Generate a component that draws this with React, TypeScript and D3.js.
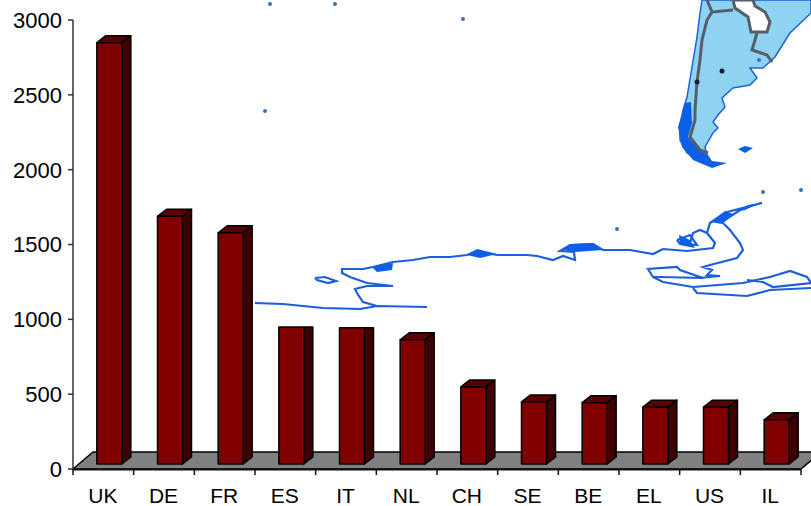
import { line, scaleBand, scaleLinear } from 'd3'

const WIDTH = 811
const HEIGHT = 506
const MARGIN = { top: 20, right: 10, bottom: 37, left: 73 }
const DEPTH_X = 9
const DEPTH_Y = 7
const FLOOR_X = 20
const FLOOR_Y = 17
const BAR_WIDTH = 25

const countries = ['UK', 'DE', 'FR', 'ES', 'IT', 'NL', 'CH', 'SE', 'BE', 'EL', 'US', 'IL']
const counts = [2815, 1655, 1545, 915, 910, 830, 515, 415, 410, 380, 380, 295]
const yTicks = [0, 500, 1000, 1500, 2000, 2500, 3000]
// these two bars lost their top face in the original, the map image sits over them
const flatTopped = ['ES', 'IT']

// backdrop map, traced in picture pixels (not chart data)
type Pt = [number, number]
const land: Pt[] = [
  [702, 0], [700, 13], [697, 37], [692, 67], [687, 97], [683, 110], [680, 127], [680, 140], [687, 153], [700, 160],
  [708, 160], [705, 147], [713, 133], [718, 128], [713, 122], [718, 115], [725, 107], [722, 98],
  [733, 88], [750, 85], [757, 78], [750, 68], [763, 68], [775, 57], [790, 33], [811, 13], [811, 0],
]
const patagonia: Pt[] = [
  [685, 103], [691, 102], [692, 123], [688, 137], [700, 151], [708, 155], [712, 161], [727, 163], [712, 168], [693, 160],
  [682, 147], [678, 127], [683, 110],
]
const whiteBlob: Pt[] = [[733, 0], [735, 8], [748, 17], [751, 32], [767, 32], [770, 22], [765, 12], [755, 6], [753, 0]]
const borders: Pt[][] = [
  [[707, 0], [712, 12], [707, 20], [702, 40], [700, 60], [697, 82], [695, 110], [695, 120], [690, 137], [700, 150], [708, 153]],
  [[712, 12], [733, 10]],
  [[757, 33], [752, 50], [767, 55], [772, 62]],
]
const coast: Pt[][] = [
  // ross side and bay
  [[255, 303], [283, 304], [323, 308], [360, 309], [377, 306], [427, 307]],
  [[377, 306], [363, 302], [357, 293], [355, 289], [367, 286], [393, 286], [367, 283], [350, 277], [342, 273], [342, 269],
    [363, 269], [373, 267], [393, 262], [413, 260], [430, 257], [450, 257], [467, 255], [477, 251], [497, 255], [517, 255],
    [527, 255], [537, 256], [553, 260], [563, 256], [575, 260], [574, 252], [560, 251], [570, 245], [593, 244], [603, 250],
    [630, 250], [653, 254], [663, 249], [687, 251], [713, 248], [715, 243], [707, 233], [700, 230], [693, 233], [690, 243]],
  // peninsula
  [[707, 233], [710, 223], [727, 212], [762, 203], [743, 208], [722, 222], [730, 230], [740, 243], [743, 250], [737, 258],
    [710, 265], [703, 267], [712, 270], [707, 275], [720, 276], [700, 278]],
  // ice shelves on the weddell side
  [[653, 277], [648, 269], [677, 267], [680, 270], [703, 278], [660, 277], [653, 277], [663, 282], [693, 287], [743, 283],
    [770, 277], [790, 271], [807, 277], [811, 283], [773, 287], [763, 282], [747, 280]],
  [[693, 288], [697, 293], [747, 296], [770, 290], [811, 288]],
  [[677, 240], [690, 235], [697, 245], [680, 244], [677, 240]],
  // small island
  [[315, 278], [325, 277], [336, 281], [328, 283], [317, 280], [315, 278]],
]
const coastBlobs: Pt[][] = [
  [[372, 267], [393, 263], [392, 270], [377, 272]],
  [[467, 255], [477, 249], [497, 254], [480, 258]],
  [[563, 250], [572, 244], [593, 243], [603, 250], [575, 252]],
  [[679, 235], [690, 240], [695, 248], [680, 245]],
  [[710, 222], [725, 211], [733, 214], [722, 224]],
  [[735, 212], [748, 205], [760, 203], [745, 210]],
  [[738, 149], [745, 146], [753, 148], [745, 153]],
]
const specks: Pt[] = [[270, 4], [335, 4], [463, 19], [265, 111], [617, 229], [763, 192], [801, 190], [759, 60]]
const darkSpecks: Pt[] = [[722, 71], [697, 82]]

const path = line()

export default function App() {
  const x = scaleBand<string>()
    .domain(countries)
    .range([MARGIN.left, WIDTH - MARGIN.right])
  const y = scaleLinear()
    .domain([0, 3000])
    .range([HEIGHT - MARGIN.bottom, MARGIN.top])
  const y0 = y(0)
  const x0 = MARGIN.left
  const x1 = x.range()[1]

  return (
    <svg
      width={WIDTH}
      height={HEIGHT}
      viewBox={`0 0 ${WIDTH} ${HEIGHT}`}
      style={{ position: 'absolute', left: 0, top: 0, fontFamily: 'Liberation Sans, Arial, sans-serif' }}
    >
      <defs>
        <filter id="soft">
          <feGaussianBlur stdDeviation="0.6" />
        </filter>
      </defs>
      <rect width={WIDTH} height={HEIGHT} fill="#fff" />

      <g filter="url(#soft)">
        <path d={`${path(land)}Z`} fill="#8fd2f2" stroke="#1f62d8" strokeWidth={1.5} />
        <path d={`${path(patagonia)}Z`} fill="#0b5fe8" />
        {borders.map((b, i) => (
          <path key={i} d={path(b) ?? undefined} fill="none" stroke="#555f66" strokeWidth={3} />
        ))}
        <path d={`${path(whiteBlob)}Z`} fill="#fff" stroke="#555f66" strokeWidth={3} />
        {coast.map((c, i) => (
          <path key={i} d={path(c) ?? undefined} fill="none" stroke="#1c5fdc" strokeWidth={2.2} />
        ))}
        {coastBlobs.map((c, i) => (
          <path key={i} d={`${path(c)}Z`} fill="#0b5fe8" />
        ))}
        {specks.map(([cx, cy], i) => (
          <circle key={i} cx={cx} cy={cy} r={2} fill="#3a6fc0" />
        ))}
        {darkSpecks.map(([cx, cy], i) => (
          <circle key={i} cx={cx} cy={cy} r={2.5} fill="#1a1a30" />
        ))}
      </g>

      <path
        d={`M${x0},${y0}L${x0 + FLOOR_X},${y0 - FLOOR_Y}L${x1 + FLOOR_X},${y0 - FLOOR_Y}L${x1},${y0}Z`}
        fill="#808080"
        stroke="#000"
        strokeWidth={1.5}
      />

      {countries.map((c, i) => {
        const bx = (x(c) ?? 0) + x.bandwidth() / 2 + 6 - BAR_WIDTH / 2
        const base = y0 - 5
        const top = y(counts[i]) - 5
        const flat = flatTopped.includes(c)
        const backTop = flat ? top : top - DEPTH_Y
        return (
          <g key={c} stroke="#000" strokeWidth={1.5} strokeLinejoin="round">
            {!flat && (
              <path
                d={`M${bx},${top}L${bx + DEPTH_X},${backTop}L${bx + BAR_WIDTH + DEPTH_X},${backTop}L${bx + BAR_WIDTH},${top}Z`}
                fill="#5a0000"
              />
            )}
            <path
              d={`M${bx + BAR_WIDTH},${top}L${bx + BAR_WIDTH + DEPTH_X},${backTop}L${bx + BAR_WIDTH + DEPTH_X},${base - DEPTH_Y}L${bx + BAR_WIDTH},${base}Z`}
              fill="#3f0000"
            />
            <rect x={bx} y={top} width={BAR_WIDTH} height={base - top} fill="#800000" />
          </g>
        )
      })}

      <line x1={x0} x2={x0} y1={MARGIN.top} y2={y0} stroke="#333" strokeWidth={1.5} />
      <line x1={x0} x2={x1} y1={y0 + 0.5} y2={y0 + 0.5} stroke="#111" strokeWidth={2} />
      {yTicks.map((t) => (
        <g key={t}>
          <line x1={x0 - 5} x2={x0} y1={y(t)} y2={y(t)} stroke="#333" strokeWidth={1.5} />
          <text x={x0 - 11} y={y(t)} dy="0.36em" textAnchor="end" fontSize={22} fill="#000">
            {t}
          </text>
        </g>
      ))}
      {countries.map((c) => (
        <g key={c}>
          <line
            x1={x(c) ?? 0}
            x2={x(c) ?? 0}
            y1={y0}
            y2={y0 + 6}
            stroke="#111"
            strokeWidth={1.5}
          />
          <text x={(x(c) ?? 0) + x.bandwidth() / 2 - 0.5} y={y0 + 34} textAnchor="middle" fontSize={21} fill="#000">
            {c}
          </text>
        </g>
      ))}
      <line x1={x1} x2={x1} y1={y0} y2={y0 + 6} stroke="#111" strokeWidth={1.5} />
    </svg>
  )
}
